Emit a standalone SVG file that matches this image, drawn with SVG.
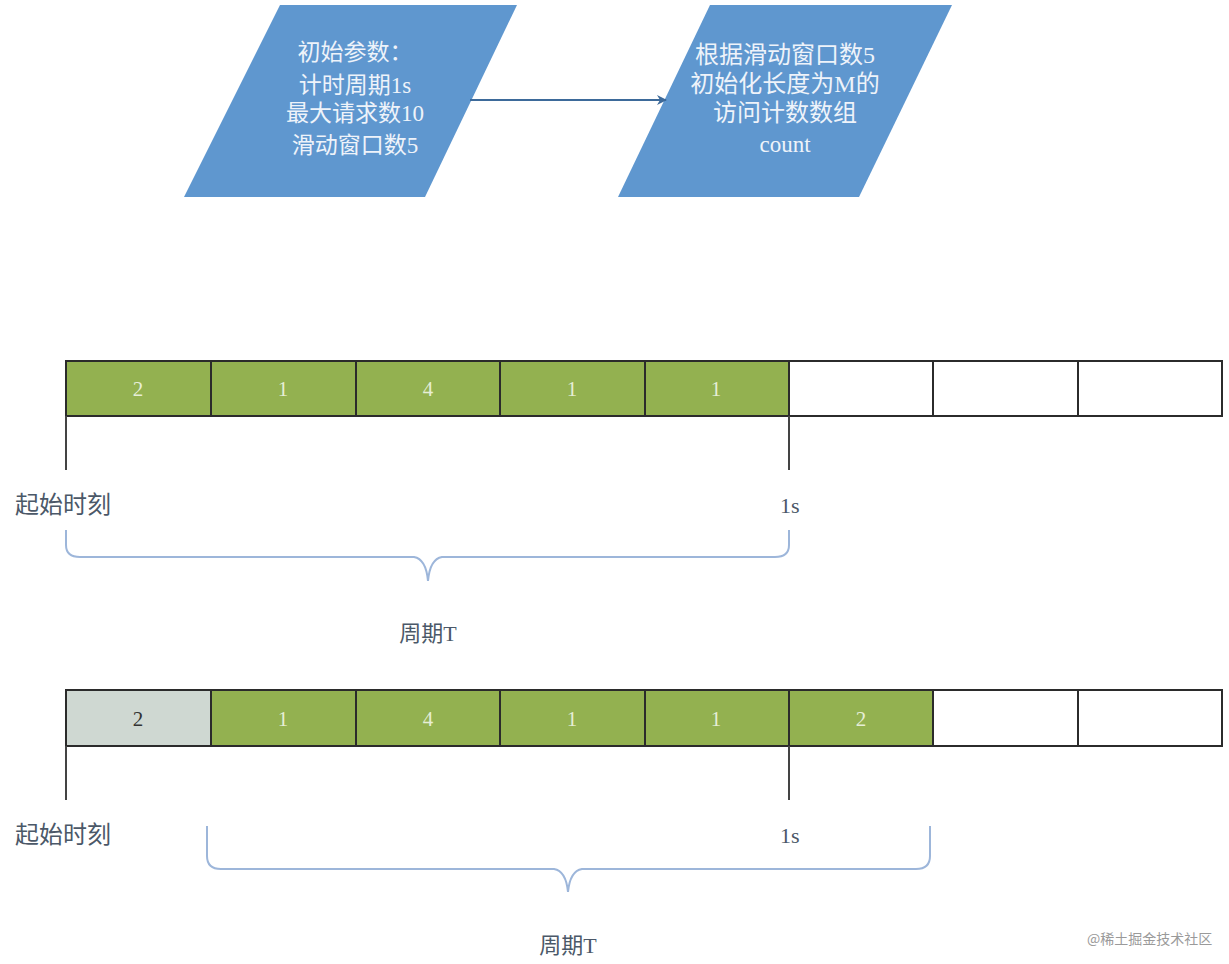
<svg xmlns="http://www.w3.org/2000/svg" width="1229" height="964" viewBox="0 0 1229 964">
<style>
.para{fill:#5f97cf;}
.pt{font-family:"Liberation Serif","Noto Sans CJK SC",serif;font-size:23px;fill:#eef3fa;text-anchor:middle;}
.pt2{font-family:"Liberation Serif","Noto Sans CJK SC",serif;font-size:24px;fill:#eef3fa;text-anchor:middle;}
.cell{stroke:#2b2b2b;stroke-width:2;}
.g{fill:#93b150;}
.w{fill:#ffffff;}
.gr{fill:#cfd8d2;}
.ct{font-family:"Liberation Serif","Noto Sans CJK SC",serif;font-size:21px;fill:#e6eed6;text-anchor:middle;}
.ctd{font-family:"Liberation Serif","Noto Sans CJK SC",serif;font-size:21px;fill:#333;text-anchor:middle;}
.tick{stroke:#444;stroke-width:2;}
.lbl{font-family:"Liberation Serif","Noto Sans CJK SC",serif;font-size:24px;fill:#4b5868;}
.lbs{font-family:"Liberation Serif","Noto Sans CJK SC",serif;font-size:22px;fill:#4b5868;}
.brace{fill:none;stroke:#9db6da;stroke-width:2;}
.wm{font-family:"Noto Sans CJK SC",sans-serif;font-size:14px;fill:#9a9a9a;}
</style>
<defs>
<marker id="arr" markerWidth="10" markerHeight="10" refX="9" refY="5" orient="auto" markerUnits="userSpaceOnUse">
<path d="M0,0 L10,5 L0,10 L3,5 Z" fill="#3d6a9a"/>
</marker>
</defs>
<g id="node-params">
<polygon class="para" points="280,5 517,5 425,197 184,197"/>
<text class="pt" x="355" y="60">初始参数：</text>
<text class="pt" x="355" y="93">计时周期1s</text>
<text class="pt" x="355" y="121">最大请求数10</text>
<text class="pt" x="355" y="153">滑动窗口数5</text>
</g>
<g id="node-init">
<polygon class="para" points="710,5 952,5 859,197 618,197"/>
<text class="pt2" x="785" y="63">根据滑动窗口数5</text>
<text class="pt2" x="785" y="92">初始化长度为M的</text>
<text class="pt2" x="785" y="121">访问计数数组</text>
<text class="pt" x="785" y="152">count</text>
</g>
<g id="connectors">
<line x1="470" y1="100" x2="666" y2="100" stroke="#3d6a9a" stroke-width="2" marker-end="url(#arr)"/>
</g>
<g id="bar1">
<rect class="cell g" x="66" y="361" width="145" height="55"/>
<rect class="cell g" x="211" y="361" width="145" height="55"/>
<rect class="cell g" x="356" y="361" width="144" height="55"/>
<rect class="cell g" x="500" y="361" width="145" height="55"/>
<rect class="cell g" x="645" y="361" width="144" height="55"/>
<rect class="cell w" x="789" y="361" width="144" height="55"/>
<rect class="cell w" x="933" y="361" width="145" height="55"/>
<rect class="cell w" x="1078" y="361" width="144" height="55"/>
<text class="ct" x="138" y="396">2</text>
<text class="ct" x="283" y="396">1</text>
<text class="ct" x="428" y="396">4</text>
<text class="ct" x="572" y="396">1</text>
<text class="ct" x="716" y="396">1</text>
<line class="tick" x1="66" y1="416" x2="66" y2="470"/>
<line class="tick" x1="789" y1="416" x2="789" y2="470"/>
<text class="lbl" x="15" y="513">起始时刻</text>
<text class="lbs" x="780" y="513">1s</text>
<path class="brace" d="M66,530 V545 Q66,557 80,557 H414 Q426,559 428,581 Q430,559 442,557 H775 Q789,557 789,545 V530"/>
<text class="lbs" x="428" y="641" text-anchor="middle">周期T</text>
</g>
<g id="bar2">
<rect class="cell gr" x="66" y="690" width="145" height="56"/>
<rect class="cell g" x="211" y="690" width="145" height="56"/>
<rect class="cell g" x="356" y="690" width="144" height="56"/>
<rect class="cell g" x="500" y="690" width="145" height="56"/>
<rect class="cell g" x="645" y="690" width="144" height="56"/>
<rect class="cell g" x="789" y="690" width="144" height="56"/>
<rect class="cell w" x="933" y="690" width="145" height="56"/>
<rect class="cell w" x="1078" y="690" width="144" height="56"/>
<text class="ctd" x="138" y="726">2</text>
<text class="ct" x="283" y="726">1</text>
<text class="ct" x="428" y="726">4</text>
<text class="ct" x="572" y="726">1</text>
<text class="ct" x="716" y="726">1</text>
<text class="ct" x="861" y="726">2</text>
<line class="tick" x1="66" y1="746" x2="66" y2="800"/>
<line class="tick" x1="789" y1="746" x2="789" y2="800"/>
<text class="lbl" x="15" y="843">起始时刻</text>
<text class="lbs" x="780" y="843">1s</text>
<path class="brace" d="M207,826 V856 Q207,869 221,869 H554 Q566,871 568,892 Q570,871 582,869 H916 Q930,869 930,856 V826"/>
<text class="lbs" x="568" y="953" text-anchor="middle">周期T</text>
</g>
<text class="wm" x="1087" y="944">@稀土掘金技术社区</text>
</svg>
